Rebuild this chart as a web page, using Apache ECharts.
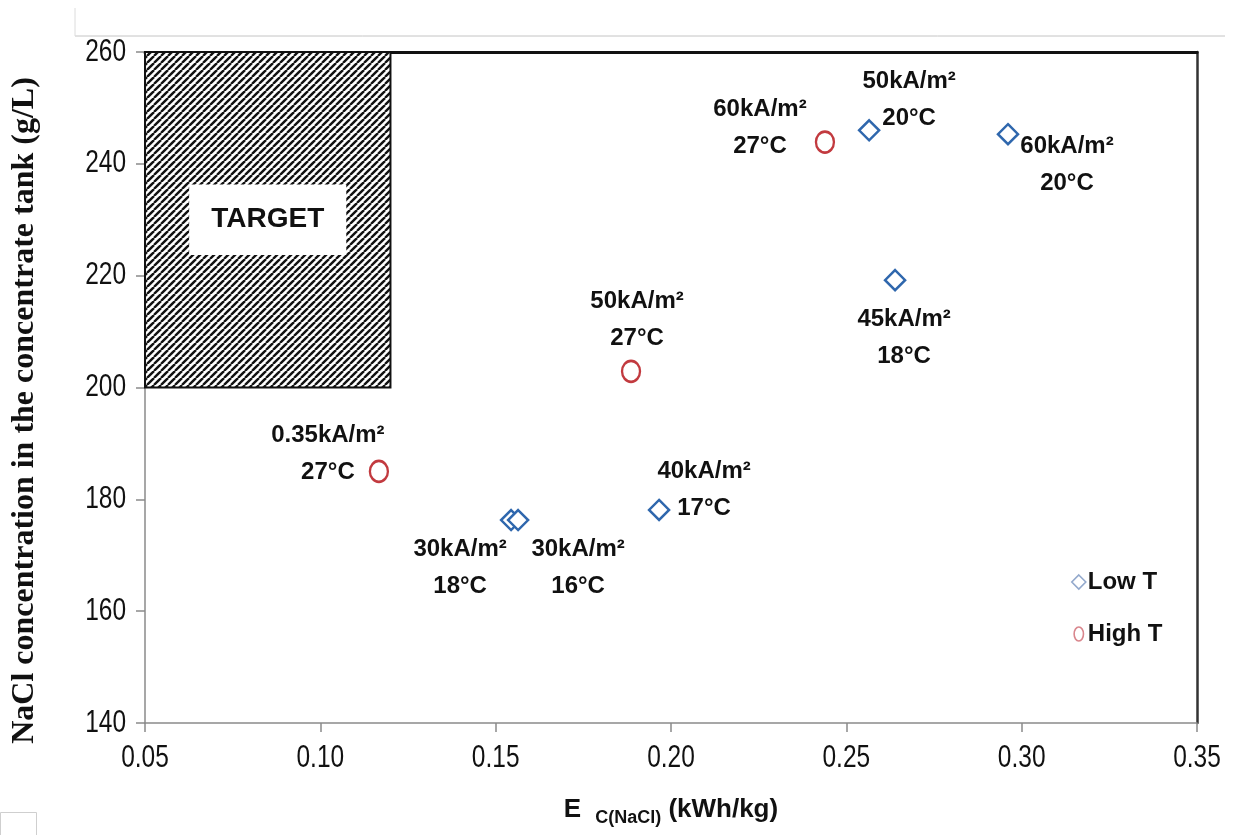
<!DOCTYPE html>
<html>
<head>
<meta charset="utf-8">
<script src="https://cdn.jsdelivr.net/npm/echarts@6/dist/echarts.min.js"></script>
<style>
  html, body { margin: 0; padding: 0; background: #fff; }
  #chart { width: 1233px; height: 835px; }
</style>
</head>
<body>
<div id="chart"></div>
<script>
// Specific energy consumption E_C(NaCl) vs. NaCl concentration reached in the concentrate tank
const lowTEnergy = [0.2565, 0.2961, 0.2639, 0.1966, 0.1544, 0.1564];
const lowTConc   = [246.0, 245.3, 219.2, 178.1, 176.3, 176.3];
const lowTLabels = ['50kA/m²\n20°C', '60kA/m²\n20°C', '45kA/m²\n18°C',
                    '40kA/m²\n17°C', '30kA/m²\n18°C', '30kA/m²\n16°C'];

const highTEnergy = [0.2439, 0.1886, 0.1167];
const highTConc   = [243.9, 202.9, 185.0];
const highTLabels = ['60kA/m²\n27°C', '50kA/m²\n27°C', '0.35kA/m²\n27°C'];

// Target window (energy range, concentration range)
const targetEnergy = [0.05, 0.12];
const targetConc   = [200, 260];

// Axis ticks and their printed labels
const energyTicks = [0.05, 0.10, 0.15, 0.20, 0.25, 0.30, 0.35];
const energyTickLabels = ['0.05', '0.10', '0.15', '0.20', '0.25', '0.30', '0.35'];
const concTicks = [140, 160, 180, 200, 220, 240, 260];
const concTickLabels = ['140', '160', '180', '200', '220', '240', '260'];

const seriesNames = ['Low T', 'High T'];

// Label placement (pixel offset from each marker to its label block)
const lowTLabelOffset  = [[40, -30], [59, 31], [9, 58], [45, -20], [-51, 48], [60, 48]];
const highTLabelOffset = [[-65, -14], [6, -51], [-51, -18]];

const SANS = '"Liberation Sans", Arial, sans-serif';
const SERIF = '"Liberation Serif", "Times New Roman", serif';

// Diagonal black/white hatching tile
function makeHatch() {
  const s = 7;
  const c = document.createElement('canvas');
  c.width = s; c.height = s;
  const g = c.getContext('2d');
  g.fillStyle = '#fff';
  g.fillRect(0, 0, s, s);
  g.strokeStyle = '#111';
  g.lineWidth = 2.4;
  for (const k of [-s, 0, s]) {
    g.beginPath();
    g.moveTo(k, s);
    g.lineTo(k + s, 0);
    g.stroke();
  }
  return c;
}
const hatchTile = makeHatch();

function pointData(xs, ys, labels, offsets) {
  return xs.map((x, i) => ({
    value: [x, ys[i]],
    label: { formatter: labels[i], offset: offsets[i] }
  }));
}

const pointLabel = {
  show: true,
  position: 'inside',
  align: 'center',
  verticalAlign: 'middle',
  fontFamily: SANS,
  fontWeight: 'bold',
  fontSize: 24,
  lineHeight: 37,
  color: '#111'
};

const chart = echarts.init(document.getElementById('chart'), null, { renderer: 'canvas' });

chart.setOption({
  backgroundColor: '#fff',
  animation: false,
  grid: { left: 145, right: 36, top: 52, bottom: 112, containLabel: false, outerBoundsMode: 'none' },
  xAxis: [{
    type: 'value',
    min: 0.05, max: 0.35, interval: 0.05,
    name: '{e|E}{sub|C(NaCl)}{e| (kWh/kg)}',
    nameLocation: 'middle',
    nameGap: 74,
    nameTextStyle: {
      rich: {
        e: { fontFamily: SANS, fontWeight: 'bold', fontSize: 26, color: '#111', verticalAlign: 'top', lineHeight: 30 },
        sub: { fontFamily: SANS, fontWeight: 'bold', fontSize: 18, color: '#111', verticalAlign: 'top', lineHeight: 30, padding: [12, 0, 0, 14] }
      }
    },
    axisLine: { show: true, lineStyle: { color: '#8a8a8a', width: 1.5 } },
    axisTick: { show: true, length: 9, lineStyle: { color: '#8a8a8a', width: 1.5 } },
    axisLabel: { show: false },
    splitLine: { show: false }
  }, {
    type: 'value',
    position: 'top',
    min: 0.05, max: 0.35,
    axisLine: { show: true, lineStyle: { color: '#111', width: 3 } },
    axisTick: { show: false },
    axisLabel: { show: false },
    splitLine: { show: false }
  }],
  yAxis: [{
    type: 'value',
    min: 140, max: 260, interval: 20,
    name: 'NaCl concentration in the concentrate tank (g/L)',
    nameLocation: 'middle',
    nameRotate: 90,
    nameGap: 104,
    nameTextStyle: { fontFamily: SERIF, fontWeight: 'bold', fontSize: 32, color: '#111', padding: [0, 46, 0, 0] },
    axisLine: { show: true, lineStyle: { color: '#8a8a8a', width: 1.5 } },
    axisTick: { show: true, length: 9, lineStyle: { color: '#8a8a8a', width: 1.5 } },
    axisLabel: { show: false },
    splitLine: { show: false }
  }, {
    type: 'value',
    position: 'right',
    min: 140, max: 260,
    axisLine: { show: true, lineStyle: { color: '#333', width: 2.5 } },
    axisTick: { show: false },
    axisLabel: { show: false },
    splitLine: { show: false }
  }],
  legend: {
    orient: 'vertical',
    left: 1066,
    top: 565,
    itemGap: 28,
    itemWidth: 14,
    itemHeight: 14,
    textStyle: { fontFamily: SANS, fontWeight: 'bold', fontSize: 24, color: '#111', lineHeight: 24, padding: [0, 0, 0, -3] },
    data: [
      { name: seriesNames[0], icon: 'diamond',
        itemStyle: { color: '#fff', borderColor: '#93a9cc', borderWidth: 1.6 } },
      { name: seriesNames[1], icon: 'path://M5,0 A5,7.5 0 1,1 5,15 A5,7.5 0 1,1 5,0 Z',
        itemStyle: { color: '#fff', borderColor: '#d9868d', borderWidth: 1.6 } }
    ]
  },
  series: [
    {
      type: 'custom',
      name: 'Target',
      silent: true,
      z: 3,
      encode: { x: [0, 1], y: [2, 3] },
      data: [[targetEnergy[0], targetEnergy[1], targetConc[0], targetConc[1]]],
      renderItem(params, api) {
        const p0 = api.coord([api.value(0), api.value(3)]);
        const p1 = api.coord([api.value(1), api.value(2)]);
        const w = p1[0] - p0[0], h = p1[1] - p0[1];
        const cx = p0[0] + w / 2, cy = p0[1] + h / 2;
        const bw = w * 0.64, bh = h * 0.21;
        return {
          type: 'group',
          children: [
            { type: 'rect', shape: { x: p0[0], y: p0[1], width: w, height: h },
              style: { fill: { image: hatchTile, repeat: 'repeat' }, stroke: '#111', lineWidth: 2 } },
            { type: 'rect', shape: { x: cx - bw / 2, y: cy - bh / 2, width: bw, height: bh },
              style: { fill: '#fff' } },
            { type: 'text',
              style: { text: 'TARGET', x: cx, y: cy, align: 'center', verticalAlign: 'middle',
                       fontFamily: SANS, fontWeight: 'bold', fontSize: 28, fill: '#111' } }
          ]
        };
      }
    },
    {
      type: 'scatter',
      name: seriesNames[0],
      z: 5,
      symbol: 'diamond',
      symbolSize: 20,
      itemStyle: { color: '#fff', borderColor: '#2f67ad', borderWidth: 2.5, opacity: 1 },
      label: pointLabel,
      data: pointData(lowTEnergy, lowTConc, lowTLabels, lowTLabelOffset)
    },
    {
      type: 'scatter',
      name: seriesNames[1],
      z: 5,
      symbol: 'circle',
      symbolSize: [18, 21],
      itemStyle: { color: '#fff', borderColor: '#c23a3f', borderWidth: 2.5, opacity: 1 },
      label: pointLabel,
      data: pointData(highTEnergy, highTConc, highTLabels, highTLabelOffset)
    }
  ]
});

// Condensed tick labels, placed through the axes' own scales
const tickFont = { fontFamily: SANS, fontSize: 31, fill: '#111' };
const plotBottom = chart.convertToPixel({ yAxisIndex: 0 }, concTicks[0]);
const plotLeft = chart.convertToPixel({ xAxisIndex: 0 }, energyTicks[0]);
const tickTexts = [];
energyTicks.forEach((v, i) => {
  tickTexts.push({
    type: 'text', silent: true, z: 10,
    x: chart.convertToPixel({ xAxisIndex: 0 }, v), y: plotBottom + 35, scaleX: 0.79,
    style: Object.assign({ text: energyTickLabels[i], x: 0, y: 0, align: 'center', verticalAlign: 'middle' }, tickFont)
  });
});
concTicks.forEach((v, i) => {
  tickTexts.push({
    type: 'text', silent: true, z: 10,
    x: plotLeft - 19, y: chart.convertToPixel({ yAxisIndex: 0 }, v), scaleX: 0.79,
    style: Object.assign({ text: concTickLabels[i], x: 0, y: 0, align: 'right', verticalAlign: 'middle' }, tickFont)
  });
});

chart.setOption({
  graphic: tickTexts.concat([
    { type: 'line', silent: true, shape: { x1: 75, y1: 36, x2: 1225, y2: 36 },
      style: { stroke: '#c4c4c4', lineWidth: 1 } },
    { type: 'line', silent: true, shape: { x1: 75, y1: 8, x2: 75, y2: 36 },
      style: { stroke: '#dcdcdc', lineWidth: 1 } },
    { type: 'rect', silent: true, shape: { x: 0.5, y: 812.5, width: 36, height: 30 },
      style: { fill: 'none', stroke: '#cfcfcf', lineWidth: 1 } }
  ])
});
</script>
</body>
</html>
